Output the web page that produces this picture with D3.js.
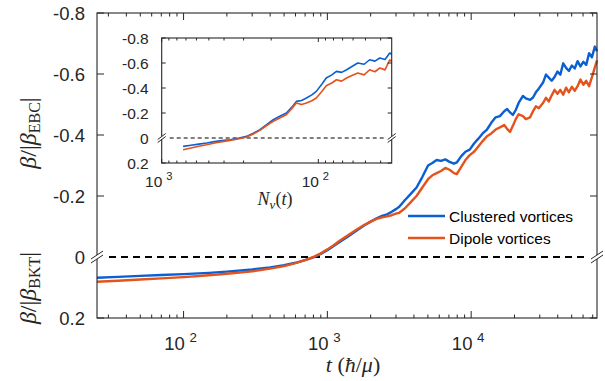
<!DOCTYPE html>
<html>
<head>
<meta charset="utf-8">
<script src="https://cdn.jsdelivr.net/npm/d3@7"></script>
<style>
body { margin: 0; background: #fff; }
text { font-family: "Liberation Sans", Arial, sans-serif; fill: #262626; }
.serif { font-family: "Liberation Serif", "DejaVu Serif", serif; }
</style>
</head>
<body>
<svg id="chart" width="605" height="381"></svg>
<script>
// main panel: time (hbar/mu) and normalised beta
const tVals = [25, 35, 50, 70, 100, 150, 200, 300, 400, 500, 600, 700, 800, 900, 1000, 1100, 1225, 1400, 1600, 1800,
    2000, 2200, 2400, 2600, 2800, 3000, 3162, 3467, 3802, 4169, 4571, 5012, 5370, 5754, 6166, 6607, 7079, 7586, 7943,
    8511, 9120, 9772, 10470, 11220, 12020, 12880, 13800, 14790, 15850, 16980, 17780, 18620, 19500, 20420, 21380, 22910,
    23990, 25700, 26920, 28180, 29510, 31620, 33110, 34670, 36310, 38020, 39810, 41690, 43650, 45710, 47860, 50120,
    52480, 54950, 57540, 60260, 63100, 66070, 69180, 72440, 75000];
const clustered = [0.068, 0.065, 0.062, 0.059, 0.056, 0.052, 0.048, 0.041, 0.034, 0.027, 0.019, 0.010, 0.001, -0.010,
    -0.022, -0.035, -0.050, -0.068, -0.087, -0.103, -0.116, -0.127, -0.135, -0.140, -0.148, -0.157, -0.165, -0.187,
    -0.207, -0.228, -0.262, -0.300, -0.308, -0.318, -0.315, -0.320, -0.312, -0.306, -0.310, -0.330, -0.345, -0.352,
    -0.372, -0.388, -0.405, -0.418, -0.440, -0.458, -0.462, -0.478, -0.485, -0.474, -0.466, -0.482, -0.505, -0.528,
    -0.520, -0.515, -0.523, -0.540, -0.552, -0.572, -0.598, -0.588, -0.578, -0.590, -0.608, -0.598, -0.635, -0.620,
    -0.610, -0.628, -0.618, -0.642, -0.625, -0.640, -0.630, -0.668, -0.655, -0.690, -0.675];
const dipole = [0.081, 0.078, 0.074, 0.070, 0.066, 0.060, 0.055, 0.047, 0.038, 0.030, 0.020, 0.010, 0.000, -0.012,
    -0.025, -0.038, -0.054, -0.072, -0.090, -0.105, -0.116, -0.125, -0.130, -0.133, -0.137, -0.142, -0.145, -0.160,
    -0.180, -0.200, -0.228, -0.255, -0.268, -0.275, -0.282, -0.292, -0.286, -0.275, -0.272, -0.295, -0.318, -0.334,
    -0.345, -0.362, -0.380, -0.396, -0.405, -0.418, -0.425, -0.433, -0.420, -0.410, -0.430, -0.452, -0.468, -0.462,
    -0.452, -0.458, -0.478, -0.494, -0.488, -0.505, -0.522, -0.510, -0.530, -0.548, -0.535, -0.548, -0.532, -0.555,
    -0.540, -0.558, -0.545, -0.560, -0.582, -0.565, -0.578, -0.560, -0.590, -0.622, -0.645];

// inset: number of vortices
const nvVals = [730, 650, 580, 516, 450, 400, 366, 320, 287, 260, 236, 215, 194, 175, 160, 148, 138, 128, 119, 110,
    103, 95, 89, 82, 76.6, 71, 66, 61, 56, 51, 47, 43.5, 40.5, 37.5, 35, 34];
const insetClustered = [0.067, 0.058, 0.049, 0.040, 0.027, 0.019, 0.014, 0.000, -0.013, -0.038, -0.066, -0.105,
    -0.146, -0.176, -0.200, -0.245, -0.293, -0.300, -0.320, -0.345, -0.373, -0.430, -0.480, -0.505, -0.533, -0.525,
    -0.546, -0.572, -0.600, -0.590, -0.626, -0.615, -0.640, -0.628, -0.680, -0.670];
const insetDipole = [0.094, 0.080, 0.066, 0.054, 0.038, 0.027, 0.019, 0.006, -0.008, -0.032, -0.061, -0.098, -0.133,
    -0.162, -0.186, -0.235, -0.280, -0.268, -0.280, -0.298, -0.320, -0.372, -0.418, -0.440, -0.466, -0.455, -0.480,
    -0.500, -0.520, -0.505, -0.546, -0.530, -0.560, -0.545, -0.626, -0.610];

const yTicks = [-0.8, -0.6, -0.4, -0.2, 0, 0.2];
const mainDecades = [100, 1000, 10000];
const insetDecades = [1000, 100];
const seriesNames = ["Clustered vortices", "Dipole vortices"];
const colors = ["#0a5fd3", "#e4531c"];

const svg = d3.select("#chart");
const axisColor = "#262626";

// draws box, ticks, breaks and labels of one panel
function drawPanel(g, x, y, opt)
{
    const [x0, x1] = x.range();
    const [yb, yt] = y.range();

    g.append("rect")
        .attr("x", Math.min(x0, x1)).attr("y", yt)
        .attr("width", Math.abs(x1 - x0)).attr("height", yb - yt)
        .attr("fill", "#fff");

    // dashed zero line
    g.append("line")
        .attr("x1", x0 + opt.breakW).attr("x2", x1 - opt.breakW)
        .attr("y1", y(0)).attr("y2", y(0))
        .attr("stroke", "#000")
        .attr("stroke-width", opt.dashW)
        .attr("stroke-dasharray", opt.dash);

    // series
    const line = d3.line().x(d => x(d[0])).y(d => y(d[1]));
    opt.series.forEach((s, i) => {
        g.append("path")
            .datum(opt.xs.map((v, j) => [v, s[j]]))
            .attr("d", line)
            .attr("fill", "none")
            .attr("stroke", colors[i])
            .attr("stroke-width", opt.lineW)
            .attr("stroke-linejoin", "round");
    });

    // box
    g.append("rect")
        .attr("x", Math.min(x0, x1)).attr("y", yt)
        .attr("width", Math.abs(x1 - x0)).attr("height", yb - yt)
        .attr("fill", "none")
        .attr("stroke", axisColor)
        .attr("stroke-width", 1.1);

    // x ticks (bottom and top, pointing inward)
    const isMajor = v => Math.abs(Math.log10(v) - Math.round(Math.log10(v))) < 1e-6;
    x.ticks().forEach(v => {
        const len = isMajor(v) ? opt.majorLen : opt.minorLen;
        const px = x(v);
        g.append("line").attr("x1", px).attr("x2", px).attr("y1", yb).attr("y2", yb - len)
            .attr("stroke", axisColor).attr("stroke-width", 1);
        g.append("line").attr("x1", px).attr("x2", px).attr("y1", yt).attr("y2", yt + len)
            .attr("stroke", axisColor).attr("stroke-width", 1);
    });

    // y ticks both sides
    yTicks.forEach(v => {
        if (v === 0) return;
        g.append("line").attr("x1", x0).attr("x2", x0 + opt.majorLen).attr("y1", y(v)).attr("y2", y(v))
            .attr("stroke", axisColor).attr("stroke-width", 1);
        g.append("line").attr("x1", x1).attr("x2", x1 - opt.majorLen).attr("y1", y(v)).attr("y2", y(v))
            .attr("stroke", axisColor).attr("stroke-width", 1);
    });

    // axis breaks at zero
    [x0, x1].forEach(px => {
        const py = y(0);
        g.append("rect").attr("x", px - 2).attr("y", py - opt.gap / 2)
            .attr("width", 4).attr("height", opt.gap).attr("fill", "#fff");
        [-opt.gap / 2, opt.gap / 2].forEach(off => {
            g.append("line")
                .attr("x1", px - opt.breakW / 2).attr("y1", py + off + opt.breakH / 2)
                .attr("x2", px + opt.breakW / 2).attr("y2", py + off - opt.breakH / 2)
                .attr("stroke", axisColor).attr("stroke-width", 1);
        });
    });

    // y tick labels
    yTicks.forEach(v => {
        g.append("text")
            .attr("x", x0 - opt.labelGap).attr("y", y(v))
            .attr("dy", "0.36em")
            .attr("text-anchor", "end")
            .style("font-size", opt.fontSize + "px")
            .text(v === 0 ? "0" : v.toFixed(1));
    });

    // decade labels
    opt.decades.forEach(v => {
        const t = g.append("text")
            .attr("x", x(v) - 3).attr("y", yb + opt.xLabelGap)
            .attr("text-anchor", "middle")
            .style("font-size", opt.fontSize + "px");
        t.append("tspan").text("10");
        t.append("tspan")
            .attr("dx", opt.fontSize * 0.25)
            .attr("dy", -opt.fontSize * 0.45)
            .style("font-size", (opt.fontSize * 0.72) + "px")
            .text(Math.round(Math.log10(v)));
    });
}

// main panel
const x = d3.scaleLog().domain([25, 75000]).range([97, 597]);
const y = d3.scaleLinear().domain([0.2, -0.8]).range([318, 13]);
const mainG = svg.append("g");
drawPanel(mainG, x, y, {
    xs: tVals, series: [clustered, dipole], decades: mainDecades,
    lineW: 2.4, dashW: 2, dash: "7,5", majorLen: 7, minorLen: 3.5,
    breakW: 12, breakH: 8, gap: 4, labelGap: 12, xLabelGap: 32, fontSize: 18.5
});

// inset panel
const xi = d3.scaleLog().domain([1000, 34]).range([161.7, 391.7]);
const yi = d3.scaleLinear().domain([0.2, -0.8]).range([163, 38]);
const insetG = svg.append("g");
drawPanel(insetG, xi, yi, {
    xs: nvVals, series: [insetClustered, insetDipole], decades: insetDecades,
    lineW: 1.6, dashW: 1.1, dash: "4,3", majorLen: 4, minorLen: 2.5,
    breakW: 8, breakH: 6, gap: 3, labelGap: 13, xLabelGap: 24, fontSize: 15.5
});

// legend
seriesNames.forEach((name, i) => {
    const ly = 216 + i * 22;
    svg.append("line").attr("x1", 408).attr("x2", 445).attr("y1", ly).attr("y2", ly)
        .attr("stroke", colors[i]).attr("stroke-width", 2.4);
    svg.append("text").attr("x", 449).attr("y", ly).attr("dy", "0.36em")
        .style("font-size", "15.5px").style("fill", "#000").text(name);
});

// axis labels
function betaLabel(cx, cy, sub)
{
    const t = svg.append("text")
        .attr("class", "serif")
        .attr("transform", `translate(${cx},${cy}) rotate(-90)`)
        .attr("text-anchor", "middle")
        .style("font-size", "24px");
    t.append("tspan").style("font-style", "italic").text("β");
    t.append("tspan").text("/|");
    t.append("tspan").style("font-style", "italic").text("β");
    t.append("tspan").attr("dy", 4).style("font-size", "16px").text(sub);
    t.append("tspan").attr("dy", -4).text("|");
}
betaLabel(36, 133, "EBC");
betaLabel(36, 288, "BKT");

const xl = svg.append("text").attr("class", "serif")
    .attr("x", 353).attr("y", 372).attr("text-anchor", "middle").style("font-size", "22px");
xl.append("tspan").style("font-style", "italic").text("t");
xl.append("tspan").text(" (");
xl.append("tspan").style("font-style", "italic").text("ħ");
xl.append("tspan").text("/");
xl.append("tspan").style("font-style", "italic").text("μ");
xl.append("tspan").text(")");

const nl = svg.append("text").attr("class", "serif")
    .attr("x", 275).attr("y", 205).attr("text-anchor", "middle").style("font-size", "18px");
nl.append("tspan").style("font-style", "italic").text("N");
nl.append("tspan").attr("dy", 4).style("font-size", "13px").style("font-style", "italic").text("v");
nl.append("tspan").attr("dy", -4).text("(");
nl.append("tspan").style("font-style", "italic").text("t");
nl.append("tspan").text(")");
</script>
</body>
</html>
